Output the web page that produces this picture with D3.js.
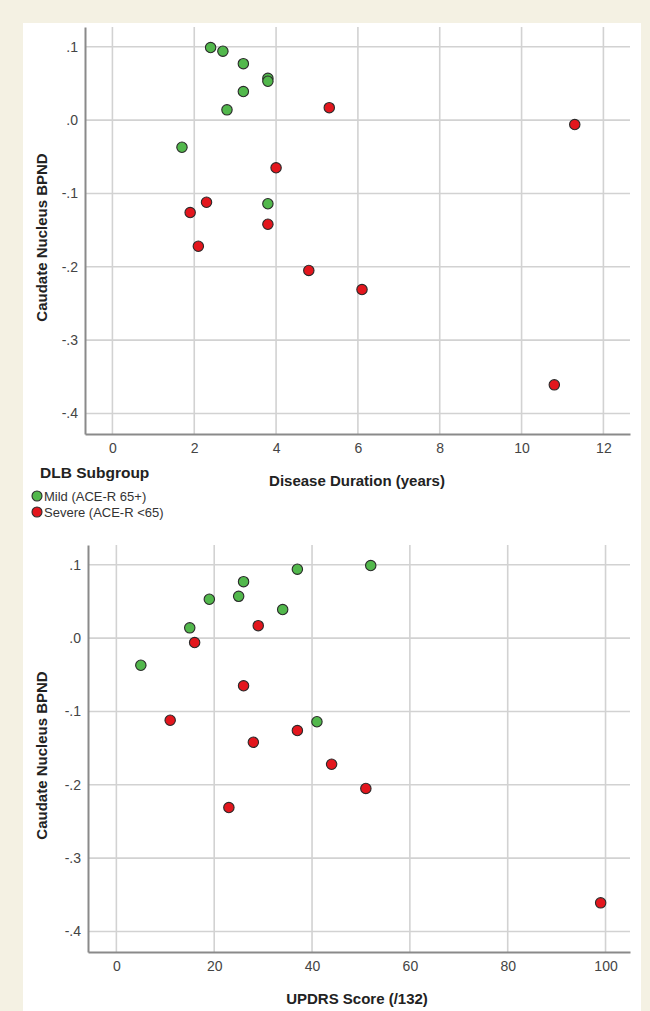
<!DOCTYPE html>
<html>
<head>
<meta charset="utf-8">
<script src="https://cdn.jsdelivr.net/npm/d3@7"></script>
<style>
  html, body { margin: 0; padding: 0; background: #f4f1e3; }
  svg { display: block; }
  text { font-family: "Liberation Sans", Arial, sans-serif; }
</style>
</head>
<body>
<script>
// Caudate nucleus binding potential in DLB, by cognitive subgroup
const mildDuration = [2.4, 2.7, 3.2, 3.8, 3.8, 3.2, 2.8, 1.7, 3.8];
const mildUpdrs    = [52, 37, 26, 25, 19, 34, 15, 5, 41];
const mildBpnd     = [0.099, 0.094, 0.077, 0.057, 0.053, 0.039, 0.014, -0.037, -0.114];

const severeDuration = [5.3, 11.3, 4.0, 2.3, 1.9, 3.8, 2.1, 4.8, 6.1, 10.8];
const severeUpdrs    = [29, 16, 26, 11, 37, 28, 44, 51, 23, 99];
const severeBpnd     = [0.017, -0.006, -0.065, -0.112, -0.126, -0.142, -0.172, -0.205, -0.231, -0.361];

const yTicks = [0.1, 0.0, -0.1, -0.2, -0.3, -0.4];
const yTickLabels = [".1", ".0", "-.1", "-.2", "-.3", "-.4"];
const durationTicks = [0, 2, 4, 6, 8, 10, 12];
const updrsTicks = [0, 20, 40, 60, 80, 100];

const groups = ["Mild (ACE-R 65+)", "Severe (ACE-R <65)"];
const groupColors = ["#52b84c", "#e3161d"];

const W = 650, H = 1011;
const svg = d3.select("body").append("svg").attr("width", W).attr("height", H);

svg.append("rect").attr("width", W).attr("height", H).attr("fill", "#f4f1e3");
svg.append("rect").attr("x", 23).attr("y", 23).attr("width", 618).attr("height", H - 23).attr("fill", "#ffffff");

const fmtY = d => yTickLabels[yTicks.findIndex(t => Math.abs(t - d) < 1e-9)];

function scatter(cfg) {
  const x = d3.scaleLinear().domain(cfg.xDomain).range([cfg.left, cfg.right]);
  const y = d3.scaleLinear().domain([-0.428, 0.127]).range([cfg.bottom, cfg.top]);
  const g = svg.append("g");

  // grid
  g.selectAll(".hg").data(yTicks).join("line")
    .attr("x1", cfg.left).attr("x2", cfg.right)
    .attr("y1", d => y(d)).attr("y2", d => y(d))
    .attr("stroke", "#d2d2d2").attr("stroke-width", 1.6);
  g.selectAll(".vg").data(cfg.xTicks).join("line")
    .attr("x1", d => x(d)).attr("x2", d => x(d))
    .attr("y1", cfg.top).attr("y2", cfg.bottom)
    .attr("stroke", "#d2d2d2").attr("stroke-width", 1.6);

  // axes
  const yAxis = d3.axisLeft(y).tickValues(yTicks).tickFormat(fmtY).tickSize(0).tickPadding(7);
  const gy = g.append("g").attr("transform", `translate(${cfg.left},0)`).call(yAxis);
  gy.select(".domain").attr("stroke", "#8a8a8a").attr("stroke-width", 2);
  gy.selectAll("text").attr("font-size", 14).attr("fill", "#444")
    .attr("font-family", "Liberation Sans, Arial, sans-serif");

  const xAxis = d3.axisBottom(x).tickValues(cfg.xTicks).tickSize(0).tickPadding(9);
  const gx = g.append("g").attr("transform", `translate(0,${cfg.bottom})`).call(xAxis);
  gx.select(".domain").attr("stroke", "#8a8a8a").attr("stroke-width", 2);
  gx.selectAll("text").attr("font-size", 14).attr("fill", "#444")
    .attr("font-family", "Liberation Sans, Arial, sans-serif");

  // titles
  g.append("text")
    .attr("transform", `translate(47,${(cfg.top + cfg.bottom) / 2 + 7}) rotate(-90)`)
    .attr("text-anchor", "middle").attr("font-size", 15).attr("font-weight", "bold").attr("fill", "#222")
    .text("Caudate Nucleus BPND");
  g.append("text")
    .attr("x", 357).attr("y", cfg.bottom + 52)
    .attr("text-anchor", "middle").attr("font-size", 15).attr("font-weight", "bold").attr("fill", "#222")
    .text(cfg.xTitle);

  // points
  const sets = [
    { xs: cfg.mildX, ys: mildBpnd, c: groupColors[0] },
    { xs: cfg.severeX, ys: severeBpnd, c: groupColors[1] }
  ];
  sets.forEach(s => {
    g.selectAll(null).data(s.xs.map((v, i) => [v, s.ys[i]])).join("circle")
      .attr("cx", d => x(d[0])).attr("cy", d => y(d[1])).attr("r", 5.2)
      .attr("fill", s.c).attr("stroke", "#2a2a2a").attr("stroke-width", 1.1);
  });
}

scatter({
  left: 85, right: 630, top: 27, bottom: 434,
  xDomain: [-0.67, 12.65], xTicks: durationTicks,
  mildX: mildDuration, severeX: severeDuration,
  xTitle: "Disease Duration (years)"
});

scatter({
  left: 88, right: 630, top: 545, bottom: 952,
  xDomain: [-5.8, 105], xTicks: updrsTicks,
  mildX: mildUpdrs, severeX: severeUpdrs,
  xTitle: "UPDRS Score (/132)"
});

// legend
const lg = svg.append("g");
lg.append("text").attr("x", 40).attr("y", 478)
  .attr("font-size", 15.5).attr("font-weight", "bold").attr("fill", "#222").text("DLB Subgroup");
groups.forEach((name, i) => {
  const cy = 496 + i * 16;
  lg.append("circle").attr("cx", 37).attr("cy", cy).attr("r", 5)
    .attr("fill", groupColors[i]).attr("stroke", "#2a2a2a").attr("stroke-width", 1.1);
  lg.append("text").attr("x", 44).attr("y", cy + 4.5)
    .attr("font-size", 13).attr("fill", "#333").text(name);
});
</script>
</body>
</html>
